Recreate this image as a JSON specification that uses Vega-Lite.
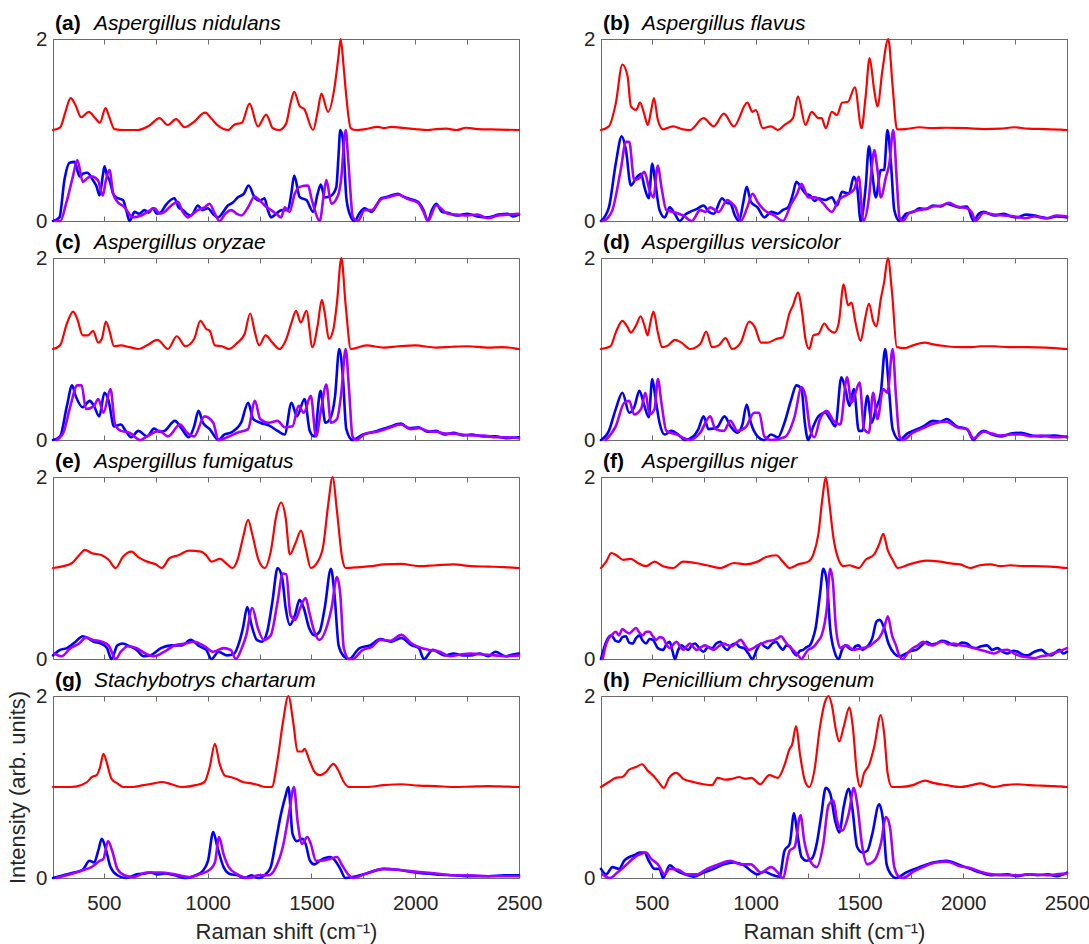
{
  "$schema": "https://vega.github.io/schema/vega-lite/v6.json",
  "background": "white",
  "padding": {"left": 6, "top": 12, "right": 0, "bottom": 2},
  "bounds": "flush",
  "columns": 2,
  "spacing": {"row": 37, "column": 82},
  "config": {
    "font": "Liberation Sans",
    "view": {"stroke": "#6b6b6b", "strokeWidth": 1},
    "axis": {
      "grid": false, "domain": false, "ticks": true, "tickSize": -5, "tickColor": "#6b6b6b", "tickWidth": 1,
      "labelColor": "#262626", "labelFont": "Liberation Sans", "labelFontSize": 20.5, "labelFlush": false,
      "labelOverlap": false, "labelBound": false,
      "titleFont": "Liberation Sans", "titleFontSize": 22, "titleFontWeight": "normal", "titleColor": "#262626"
    },
    "line": {"strokeJoin": "round", "strokeCap": "round", "interpolate": "monotone"}
  },
  "datasets": {
    "a_red": [{"x":255,"y":1.0},{"x":290,"y":1.03},{"x":315,"y":1.2},{"x":340,"y":1.35},{"x":362,"y":1.28},{"x":391,"y":1.14},{"x":428,"y":1.2},{"x":455,"y":1.14},{"x":481,"y":1.08},{"x":508,"y":1.24},{"x":525,"y":1.15},{"x":551,"y":1.01},{"x":600,"y":1.0},{"x":664,"y":1.0},{"x":720,"y":1.05},{"x":768,"y":1.13},{"x":808,"y":1.055},{"x":848,"y":1.12},{"x":889,"y":1.03},{"x":929,"y":1.08},{"x":988,"y":1.19},{"x":1020,"y":1.12},{"x":1049,"y":1.05},{"x":1097,"y":1.0},{"x":1130,"y":1.06},{"x":1165,"y":1.08},{"x":1202,"y":1.29},{"x":1242,"y":1.04},{"x":1282,"y":1.17},{"x":1314,"y":1.02},{"x":1346,"y":1.0},{"x":1378,"y":1.07},{"x":1400,"y":1.3},{"x":1417,"y":1.42},{"x":1444,"y":1.26},{"x":1465,"y":1.23},{"x":1508,"y":1.0},{"x":1530,"y":1.2},{"x":1548,"y":1.4},{"x":1580,"y":1.2},{"x":1612,"y":1.48},{"x":1630,"y":1.8},{"x":1641,"y":2.0},{"x":1655,"y":1.7},{"x":1668,"y":1.37},{"x":1689,"y":1.02},{"x":1710,"y":1.0},{"x":1760,"y":1.01},{"x":1820,"y":1.035},{"x":1850,"y":1.02},{"x":1885,"y":1.035},{"x":1950,"y":1.02},{"x":2000,"y":1.01},{"x":2061,"y":1.0},{"x":2100,"y":1.01},{"x":2149,"y":1.015},{"x":2200,"y":1.0},{"x":2245,"y":1.025},{"x":2300,"y":1.01},{"x":2400,"y":1.005},{"x":2500,"y":1.0}],
    "a_blue": [{"x":255,"y":0.0},{"x":286,"y":0.04},{"x":310,"y":0.45},{"x":335,"y":0.64},{"x":359,"y":0.65},{"x":383,"y":0.49},{"x":400,"y":0.52},{"x":420,"y":0.53},{"x":447,"y":0.45},{"x":465,"y":0.38},{"x":479,"y":0.28},{"x":495,"y":0.5},{"x":503,"y":0.6},{"x":515,"y":0.5},{"x":527,"y":0.45},{"x":545,"y":0.3},{"x":559,"y":0.26},{"x":592,"y":0.23},{"x":610,"y":0.1},{"x":624,"y":0.0},{"x":648,"y":0.1},{"x":670,"y":0.08},{"x":696,"y":0.12},{"x":715,"y":0.09},{"x":736,"y":0.14},{"x":755,"y":0.08},{"x":776,"y":0.1},{"x":800,"y":0.18},{"x":840,"y":0.25},{"x":860,"y":0.15},{"x":881,"y":0.12},{"x":900,"y":0.08},{"x":921,"y":0.06},{"x":953,"y":0.17},{"x":975,"y":0.12},{"x":1001,"y":0.14},{"x":1025,"y":0.08},{"x":1049,"y":0.04},{"x":1075,"y":0.1},{"x":1097,"y":0.17},{"x":1120,"y":0.2},{"x":1146,"y":0.26},{"x":1175,"y":0.3},{"x":1197,"y":0.39},{"x":1226,"y":0.26},{"x":1250,"y":0.22},{"x":1274,"y":0.25},{"x":1290,"y":0.12},{"x":1306,"y":0.04},{"x":1330,"y":0.08},{"x":1356,"y":0.12},{"x":1386,"y":0.12},{"x":1403,"y":0.3},{"x":1417,"y":0.5},{"x":1444,"y":0.26},{"x":1476,"y":0.23},{"x":1508,"y":0.1},{"x":1530,"y":0.3},{"x":1545,"y":0.4},{"x":1564,"y":0.26},{"x":1596,"y":0.28},{"x":1620,"y":0.375},{"x":1630,"y":0.7},{"x":1639,"y":1.0},{"x":1652,"y":0.89},{"x":1668,"y":0.26},{"x":1684,"y":0.08},{"x":1708,"y":0.0},{"x":1730,"y":0.08},{"x":1756,"y":0.14},{"x":1789,"y":0.1},{"x":1837,"y":0.25},{"x":1870,"y":0.27},{"x":1917,"y":0.3},{"x":1940,"y":0.27},{"x":1965,"y":0.25},{"x":2013,"y":0.21},{"x":2040,"y":0.12},{"x":2061,"y":0.0},{"x":2080,"y":0.12},{"x":2101,"y":0.19},{"x":2130,"y":0.1},{"x":2157,"y":0.09},{"x":2200,"y":0.06},{"x":2253,"y":0.08},{"x":2300,"y":0.05},{"x":2350,"y":0.04},{"x":2400,"y":0.07},{"x":2446,"y":0.08},{"x":2470,"y":0.05},{"x":2500,"y":0.07}],
    "a_purple": [{"x":265,"y":0.0},{"x":290,"y":0.0},{"x":318,"y":0.19},{"x":351,"y":0.49},{"x":372,"y":0.67},{"x":399,"y":0.43},{"x":420,"y":0.47},{"x":439,"y":0.49},{"x":471,"y":0.45},{"x":495,"y":0.28},{"x":510,"y":0.45},{"x":527,"y":0.56},{"x":545,"y":0.3},{"x":559,"y":0.23},{"x":600,"y":0.15},{"x":640,"y":0.04},{"x":680,"y":0.06},{"x":710,"y":0.1},{"x":744,"y":0.14},{"x":770,"y":0.08},{"x":792,"y":0.1},{"x":830,"y":0.18},{"x":857,"y":0.21},{"x":880,"y":0.1},{"x":905,"y":0.04},{"x":930,"y":0.08},{"x":953,"y":0.12},{"x":985,"y":0.15},{"x":1009,"y":0.19},{"x":1035,"y":0.08},{"x":1057,"y":0.0},{"x":1085,"y":0.08},{"x":1113,"y":0.12},{"x":1140,"y":0.08},{"x":1162,"y":0.06},{"x":1195,"y":0.15},{"x":1226,"y":0.27},{"x":1258,"y":0.21},{"x":1285,"y":0.15},{"x":1306,"y":0.12},{"x":1330,"y":0.08},{"x":1354,"y":0.04},{"x":1372,"y":0.15},{"x":1394,"y":0.1},{"x":1420,"y":0.3},{"x":1444,"y":0.375},{"x":1484,"y":0.39},{"x":1500,"y":0.25},{"x":1516,"y":0.12},{"x":1540,"y":0.0},{"x":1560,"y":0.3},{"x":1572,"y":0.45},{"x":1596,"y":0.19},{"x":1628,"y":0.28},{"x":1645,"y":0.5},{"x":1658,"y":0.9},{"x":1665,"y":1.0},{"x":1675,"y":0.75},{"x":1684,"y":0.45},{"x":1700,"y":0.04},{"x":1724,"y":0.0},{"x":1756,"y":0.12},{"x":1789,"y":0.12},{"x":1837,"y":0.24},{"x":1870,"y":0.26},{"x":1917,"y":0.29},{"x":1965,"y":0.24},{"x":2013,"y":0.2},{"x":2040,"y":0.1},{"x":2061,"y":0.0},{"x":2101,"y":0.17},{"x":2157,"y":0.08},{"x":2200,"y":0.07},{"x":2253,"y":0.06},{"x":2300,"y":0.07},{"x":2350,"y":0.03},{"x":2400,"y":0.06},{"x":2446,"y":0.07},{"x":2500,"y":0.08}],
    "b_red": [{"x":255,"y":1.0},{"x":293,"y":1.04},{"x":326,"y":1.29},{"x":358,"y":1.72},{"x":383,"y":1.59},{"x":399,"y":1.26},{"x":424,"y":1.22},{"x":443,"y":1.3},{"x":464,"y":1.17},{"x":480,"y":1.055},{"x":497,"y":1.22},{"x":510,"y":1.35},{"x":529,"y":1.11},{"x":554,"y":1.007},{"x":602,"y":1.04},{"x":651,"y":1.007},{"x":684,"y":1.0},{"x":749,"y":1.13},{"x":798,"y":1.04},{"x":847,"y":1.18},{"x":895,"y":1.04},{"x":960,"y":1.3},{"x":985,"y":1.2},{"x":1001,"y":1.22},{"x":1034,"y":1.02},{"x":1074,"y":1.04},{"x":1107,"y":1.0},{"x":1139,"y":1.055},{"x":1180,"y":1.13},{"x":1204,"y":1.37},{"x":1240,"y":1.055},{"x":1270,"y":1.2},{"x":1302,"y":1.13},{"x":1318,"y":1.13},{"x":1338,"y":1.02},{"x":1367,"y":1.2},{"x":1392,"y":1.165},{"x":1416,"y":1.3},{"x":1445,"y":1.31},{"x":1478,"y":1.47},{"x":1510,"y":1.02},{"x":1530,"y":1.37},{"x":1549,"y":1.79},{"x":1571,"y":1.44},{"x":1587,"y":1.26},{"x":1611,"y":1.66},{"x":1639,"y":2.0},{"x":1660,"y":1.48},{"x":1681,"y":1.007},{"x":1720,"y":1.01},{"x":1790,"y":1.03},{"x":1850,"y":1.02},{"x":1920,"y":1.025},{"x":2018,"y":1.02},{"x":2100,"y":1.01},{"x":2180,"y":1.015},{"x":2246,"y":1.03},{"x":2311,"y":1.015},{"x":2400,"y":1.01},{"x":2500,"y":1.0}],
    "b_blue": [{"x":255,"y":0.0},{"x":293,"y":0.15},{"x":326,"y":0.63},{"x":355,"y":0.93},{"x":375,"y":0.78},{"x":399,"y":0.39},{"x":424,"y":0.47},{"x":448,"y":0.52},{"x":464,"y":0.375},{"x":485,"y":0.25},{"x":502,"y":0.63},{"x":515,"y":0.45},{"x":537,"y":0.12},{"x":562,"y":0.04},{"x":586,"y":0.15},{"x":610,"y":0.08},{"x":635,"y":0.0},{"x":660,"y":0.07},{"x":684,"y":0.1},{"x":715,"y":0.13},{"x":749,"y":0.17},{"x":775,"y":0.1},{"x":798,"y":0.08},{"x":838,"y":0.25},{"x":860,"y":0.2},{"x":879,"y":0.19},{"x":900,"y":0.06},{"x":920,"y":0.0},{"x":940,"y":0.2},{"x":957,"y":0.375},{"x":977,"y":0.21},{"x":1009,"y":0.15},{"x":1042,"y":0.04},{"x":1075,"y":0.1},{"x":1107,"y":0.08},{"x":1130,"y":0.12},{"x":1156,"y":0.15},{"x":1180,"y":0.3},{"x":1196,"y":0.43},{"x":1221,"y":0.36},{"x":1240,"y":0.3},{"x":1262,"y":0.28},{"x":1285,"y":0.22},{"x":1302,"y":0.25},{"x":1335,"y":0.23},{"x":1367,"y":0.26},{"x":1392,"y":0.17},{"x":1416,"y":0.32},{"x":1449,"y":0.3},{"x":1473,"y":0.485},{"x":1489,"y":0.375},{"x":1506,"y":0.0},{"x":1530,"y":0.375},{"x":1546,"y":0.82},{"x":1562,"y":0.52},{"x":1579,"y":0.26},{"x":1603,"y":0.56},{"x":1619,"y":0.56},{"x":1635,"y":1.0},{"x":1652,"y":0.63},{"x":1668,"y":0.12},{"x":1693,"y":0.0},{"x":1725,"y":0.08},{"x":1760,"y":0.1},{"x":1790,"y":0.14},{"x":1820,"y":0.13},{"x":1855,"y":0.17},{"x":1890,"y":0.16},{"x":1920,"y":0.19},{"x":1950,"y":0.17},{"x":1985,"y":0.15},{"x":2018,"y":0.16},{"x":2050,"y":0.0},{"x":2075,"y":0.08},{"x":2099,"y":0.1},{"x":2148,"y":0.06},{"x":2197,"y":0.08},{"x":2230,"y":0.05},{"x":2262,"y":0.04},{"x":2300,"y":0.07},{"x":2343,"y":0.06},{"x":2380,"y":0.04},{"x":2408,"y":0.03},{"x":2450,"y":0.05},{"x":2500,"y":0.04}],
    "b_purple": [{"x":263,"y":0.0},{"x":290,"y":0.04},{"x":310,"y":0.12},{"x":350,"y":0.56},{"x":375,"y":0.87},{"x":391,"y":0.87},{"x":415,"y":0.45},{"x":440,"y":0.47},{"x":464,"y":0.54},{"x":489,"y":0.34},{"x":508,"y":0.26},{"x":529,"y":0.61},{"x":546,"y":0.375},{"x":570,"y":0.12},{"x":602,"y":0.1},{"x":630,"y":0.08},{"x":651,"y":0.06},{"x":692,"y":0.0},{"x":733,"y":0.12},{"x":760,"y":0.1},{"x":781,"y":0.15},{"x":822,"y":0.1},{"x":863,"y":0.23},{"x":883,"y":0.2},{"x":903,"y":0.15},{"x":928,"y":0.0},{"x":960,"y":0.15},{"x":985,"y":0.3},{"x":1009,"y":0.21},{"x":1042,"y":0.12},{"x":1091,"y":0.06},{"x":1131,"y":0.0},{"x":1172,"y":0.19},{"x":1200,"y":0.3},{"x":1221,"y":0.41},{"x":1253,"y":0.26},{"x":1286,"y":0.26},{"x":1310,"y":0.23},{"x":1327,"y":0.19},{"x":1367,"y":0.1},{"x":1400,"y":0.23},{"x":1425,"y":0.27},{"x":1449,"y":0.3},{"x":1475,"y":0.35},{"x":1497,"y":0.485},{"x":1518,"y":0.0},{"x":1546,"y":0.26},{"x":1560,"y":0.6},{"x":1571,"y":0.78},{"x":1587,"y":0.56},{"x":1603,"y":0.26},{"x":1628,"y":0.485},{"x":1644,"y":0.63},{"x":1663,"y":1.0},{"x":1680,"y":0.45},{"x":1693,"y":0.04},{"x":1709,"y":0.0},{"x":1740,"y":0.09},{"x":1790,"y":0.12},{"x":1830,"y":0.14},{"x":1855,"y":0.16},{"x":1900,"y":0.17},{"x":1930,"y":0.2},{"x":1970,"y":0.16},{"x":2018,"y":0.14},{"x":2045,"y":0.08},{"x":2058,"y":0.0},{"x":2099,"y":0.09},{"x":2148,"y":0.07},{"x":2197,"y":0.06},{"x":2250,"y":0.05},{"x":2300,"y":0.03},{"x":2343,"y":0.05},{"x":2400,"y":0.03},{"x":2450,"y":0.06},{"x":2500,"y":0.05}],
    "c_red": [{"x":255,"y":1.0},{"x":289,"y":1.04},{"x":322,"y":1.28},{"x":352,"y":1.41},{"x":372,"y":1.33},{"x":398,"y":1.15},{"x":423,"y":1.15},{"x":448,"y":1.2},{"x":473,"y":1.07},{"x":490,"y":1.11},{"x":510,"y":1.3},{"x":527,"y":1.2},{"x":549,"y":1.03},{"x":582,"y":1.04},{"x":624,"y":1.02},{"x":666,"y":1.0},{"x":708,"y":1.04},{"x":758,"y":1.1},{"x":809,"y":1.0},{"x":851,"y":1.14},{"x":893,"y":1.03},{"x":935,"y":1.11},{"x":965,"y":1.31},{"x":993,"y":1.22},{"x":1010,"y":1.2},{"x":1035,"y":1.04},{"x":1069,"y":1.03},{"x":1102,"y":1.0},{"x":1144,"y":1.07},{"x":1178,"y":1.165},{"x":1205,"y":1.39},{"x":1228,"y":1.18},{"x":1248,"y":1.04},{"x":1279,"y":1.15},{"x":1312,"y":1.07},{"x":1346,"y":1.0},{"x":1379,"y":1.11},{"x":1404,"y":1.29},{"x":1426,"y":1.42},{"x":1449,"y":1.29},{"x":1476,"y":1.42},{"x":1505,"y":1.02},{"x":1530,"y":1.26},{"x":1550,"y":1.54},{"x":1564,"y":1.4},{"x":1584,"y":1.11},{"x":1606,"y":1.22},{"x":1623,"y":1.51},{"x":1644,"y":2.0},{"x":1665,"y":1.48},{"x":1690,"y":1.0},{"x":1765,"y":1.04},{"x":1849,"y":1.015},{"x":1920,"y":1.03},{"x":2000,"y":1.04},{"x":2101,"y":1.015},{"x":2180,"y":1.025},{"x":2252,"y":1.03},{"x":2350,"y":1.015},{"x":2420,"y":1.02},{"x":2500,"y":1.0}],
    "c_blue": [{"x":255,"y":0.0},{"x":289,"y":0.04},{"x":322,"y":0.375},{"x":347,"y":0.6},{"x":364,"y":0.485},{"x":398,"y":0.36},{"x":432,"y":0.43},{"x":452,"y":0.375},{"x":478,"y":0.26},{"x":503,"y":0.52},{"x":523,"y":0.43},{"x":549,"y":0.15},{"x":582,"y":0.17},{"x":605,"y":0.1},{"x":632,"y":0.03},{"x":666,"y":0.1},{"x":708,"y":0.04},{"x":742,"y":0.125},{"x":770,"y":0.09},{"x":792,"y":0.1},{"x":842,"y":0.21},{"x":876,"y":0.12},{"x":909,"y":0.03},{"x":935,"y":0.15},{"x":956,"y":0.32},{"x":977,"y":0.19},{"x":1010,"y":0.12},{"x":1052,"y":0.0},{"x":1080,"y":0.06},{"x":1111,"y":0.08},{"x":1161,"y":0.19},{"x":1195,"y":0.41},{"x":1220,"y":0.23},{"x":1253,"y":0.19},{"x":1295,"y":0.16},{"x":1337,"y":0.1},{"x":1371,"y":0.06},{"x":1404,"y":0.41},{"x":1430,"y":0.26},{"x":1467,"y":0.45},{"x":1492,"y":0.1},{"x":1514,"y":0.04},{"x":1544,"y":0.54},{"x":1567,"y":0.19},{"x":1589,"y":0.23},{"x":1614,"y":0.485},{"x":1634,"y":1.0},{"x":1651,"y":0.71},{"x":1668,"y":0.12},{"x":1698,"y":0.0},{"x":1748,"y":0.06},{"x":1780,"y":0.08},{"x":1815,"y":0.1},{"x":1870,"y":0.14},{"x":1932,"y":0.18},{"x":1970,"y":0.13},{"x":2016,"y":0.14},{"x":2060,"y":0.09},{"x":2101,"y":0.1},{"x":2140,"y":0.06},{"x":2185,"y":0.08},{"x":2230,"y":0.05},{"x":2269,"y":0.06},{"x":2330,"y":0.04},{"x":2386,"y":0.04},{"x":2440,"y":0.02},{"x":2500,"y":0.03}],
    "c_purple": [{"x":272,"y":0.0},{"x":305,"y":0.08},{"x":339,"y":0.375},{"x":372,"y":0.6},{"x":393,"y":0.6},{"x":414,"y":0.34},{"x":453,"y":0.375},{"x":473,"y":0.45},{"x":498,"y":0.3},{"x":532,"y":0.56},{"x":554,"y":0.17},{"x":582,"y":0.1},{"x":624,"y":0.08},{"x":675,"y":0.0},{"x":708,"y":0.04},{"x":767,"y":0.1},{"x":809,"y":0.04},{"x":867,"y":0.17},{"x":901,"y":0.08},{"x":935,"y":0.04},{"x":985,"y":0.26},{"x":1027,"y":0.19},{"x":1052,"y":0.0},{"x":1094,"y":0.03},{"x":1144,"y":0.08},{"x":1195,"y":0.12},{"x":1228,"y":0.43},{"x":1253,"y":0.23},{"x":1295,"y":0.19},{"x":1337,"y":0.21},{"x":1371,"y":0.14},{"x":1409,"y":0.15},{"x":1438,"y":0.375},{"x":1463,"y":0.3},{"x":1497,"y":0.485},{"x":1522,"y":0.04},{"x":1547,"y":0.34},{"x":1572,"y":0.61},{"x":1594,"y":0.19},{"x":1623,"y":0.23},{"x":1644,"y":0.52},{"x":1665,"y":1.0},{"x":1681,"y":0.56},{"x":1698,"y":0.04},{"x":1715,"y":0.0},{"x":1760,"y":0.07},{"x":1815,"y":0.09},{"x":1870,"y":0.13},{"x":1932,"y":0.17},{"x":1980,"y":0.12},{"x":2016,"y":0.13},{"x":2060,"y":0.1},{"x":2101,"y":0.09},{"x":2150,"y":0.07},{"x":2185,"y":0.07},{"x":2269,"y":0.05},{"x":2330,"y":0.05},{"x":2386,"y":0.03},{"x":2440,"y":0.03},{"x":2500,"y":0.02}],
    "d_red": [{"x":255,"y":1.0},{"x":301,"y":1.03},{"x":326,"y":1.18},{"x":358,"y":1.31},{"x":383,"y":1.24},{"x":399,"y":1.18},{"x":424,"y":1.26},{"x":446,"y":1.36},{"x":464,"y":1.26},{"x":480,"y":1.15},{"x":492,"y":1.28},{"x":508,"y":1.41},{"x":529,"y":1.18},{"x":550,"y":1.02},{"x":578,"y":1.04},{"x":611,"y":1.1},{"x":643,"y":1.07},{"x":684,"y":1.0},{"x":733,"y":1.055},{"x":762,"y":1.19},{"x":790,"y":1.02},{"x":822,"y":1.04},{"x":855,"y":1.12},{"x":887,"y":1.0},{"x":928,"y":1.07},{"x":969,"y":1.3},{"x":996,"y":1.24},{"x":1026,"y":1.07},{"x":1058,"y":1.07},{"x":1099,"y":1.11},{"x":1131,"y":1.13},{"x":1164,"y":1.4},{"x":1180,"y":1.48},{"x":1204,"y":1.62},{"x":1224,"y":1.4},{"x":1240,"y":1.11},{"x":1258,"y":1.0},{"x":1278,"y":1.15},{"x":1302,"y":1.165},{"x":1331,"y":1.28},{"x":1351,"y":1.22},{"x":1380,"y":1.18},{"x":1400,"y":1.28},{"x":1424,"y":1.71},{"x":1445,"y":1.48},{"x":1462,"y":1.51},{"x":1481,"y":1.29},{"x":1506,"y":1.09},{"x":1527,"y":1.33},{"x":1546,"y":1.5},{"x":1566,"y":1.31},{"x":1582,"y":1.25},{"x":1603,"y":1.55},{"x":1619,"y":1.735},{"x":1637,"y":2.0},{"x":1657,"y":1.625},{"x":1680,"y":1.02},{"x":1720,"y":1.01},{"x":1758,"y":1.04},{"x":1815,"y":1.07},{"x":1855,"y":1.05},{"x":1920,"y":1.03},{"x":1985,"y":1.02},{"x":2040,"y":1.02},{"x":2083,"y":1.03},{"x":2148,"y":1.03},{"x":2220,"y":1.02},{"x":2311,"y":1.02},{"x":2400,"y":1.015},{"x":2500,"y":1.0}],
    "d_blue": [{"x":255,"y":0.0},{"x":293,"y":0.1},{"x":326,"y":0.34},{"x":358,"y":0.52},{"x":391,"y":0.3},{"x":415,"y":0.36},{"x":440,"y":0.54},{"x":464,"y":0.375},{"x":485,"y":0.25},{"x":502,"y":0.67},{"x":518,"y":0.45},{"x":537,"y":0.19},{"x":562,"y":0.06},{"x":594,"y":0.1},{"x":627,"y":0.06},{"x":659,"y":0.0},{"x":700,"y":0.04},{"x":724,"y":0.12},{"x":749,"y":0.26},{"x":773,"y":0.12},{"x":814,"y":0.14},{"x":850,"y":0.26},{"x":879,"y":0.15},{"x":912,"y":0.08},{"x":936,"y":0.17},{"x":957,"y":0.39},{"x":977,"y":0.19},{"x":1009,"y":0.04},{"x":1042,"y":0.0},{"x":1074,"y":0.06},{"x":1107,"y":0.03},{"x":1139,"y":0.19},{"x":1172,"y":0.45},{"x":1196,"y":0.6},{"x":1221,"y":0.56},{"x":1237,"y":0.19},{"x":1253,"y":0.0},{"x":1278,"y":0.15},{"x":1302,"y":0.26},{"x":1335,"y":0.3},{"x":1359,"y":0.23},{"x":1384,"y":0.15},{"x":1413,"y":0.69},{"x":1432,"y":0.56},{"x":1452,"y":0.375},{"x":1473,"y":0.56},{"x":1497,"y":0.1},{"x":1514,"y":0.1},{"x":1538,"y":0.485},{"x":1559,"y":0.19},{"x":1579,"y":0.34},{"x":1603,"y":0.52},{"x":1624,"y":1.0},{"x":1641,"y":0.6},{"x":1660,"y":0.12},{"x":1693,"y":0.0},{"x":1730,"y":0.07},{"x":1758,"y":0.1},{"x":1807,"y":0.15},{"x":1855,"y":0.21},{"x":1890,"y":0.2},{"x":1920,"y":0.23},{"x":1969,"y":0.15},{"x":2018,"y":0.12},{"x":2050,"y":0.0},{"x":2075,"y":0.07},{"x":2099,"y":0.1},{"x":2140,"y":0.06},{"x":2180,"y":0.04},{"x":2230,"y":0.07},{"x":2278,"y":0.08},{"x":2330,"y":0.05},{"x":2376,"y":0.04},{"x":2440,"y":0.05},{"x":2500,"y":0.03}],
    "d_purple": [{"x":277,"y":0.0},{"x":326,"y":0.15},{"x":367,"y":0.41},{"x":391,"y":0.43},{"x":415,"y":0.28},{"x":448,"y":0.34},{"x":469,"y":0.52},{"x":489,"y":0.28},{"x":513,"y":0.34},{"x":529,"y":0.67},{"x":546,"y":0.41},{"x":570,"y":0.1},{"x":619,"y":0.06},{"x":684,"y":0.0},{"x":733,"y":0.08},{"x":781,"y":0.26},{"x":806,"y":0.12},{"x":847,"y":0.1},{"x":879,"y":0.21},{"x":912,"y":0.1},{"x":952,"y":0.14},{"x":993,"y":0.3},{"x":1017,"y":0.3},{"x":1042,"y":0.04},{"x":1074,"y":0.0},{"x":1139,"y":0.03},{"x":1188,"y":0.26},{"x":1221,"y":0.58},{"x":1240,"y":0.485},{"x":1262,"y":0.12},{"x":1283,"y":0.03},{"x":1310,"y":0.23},{"x":1343,"y":0.32},{"x":1375,"y":0.21},{"x":1408,"y":0.17},{"x":1440,"y":0.69},{"x":1462,"y":0.41},{"x":1481,"y":0.52},{"x":1501,"y":0.63},{"x":1522,"y":0.12},{"x":1546,"y":0.08},{"x":1566,"y":0.52},{"x":1587,"y":0.23},{"x":1614,"y":0.56},{"x":1635,"y":0.52},{"x":1660,"y":1.0},{"x":1676,"y":0.485},{"x":1693,"y":0.04},{"x":1709,"y":0.0},{"x":1758,"y":0.08},{"x":1807,"y":0.13},{"x":1855,"y":0.18},{"x":1920,"y":0.2},{"x":1969,"y":0.14},{"x":2018,"y":0.12},{"x":2050,"y":0.02},{"x":2099,"y":0.09},{"x":2140,"y":0.07},{"x":2180,"y":0.05},{"x":2230,"y":0.06},{"x":2278,"y":0.06},{"x":2330,"y":0.04},{"x":2376,"y":0.05},{"x":2440,"y":0.03},{"x":2500,"y":0.04}],
    "e_red": [{"x":255,"y":1.0},{"x":305,"y":1.02},{"x":347,"y":1.055},{"x":381,"y":1.14},{"x":409,"y":1.2},{"x":440,"y":1.165},{"x":490,"y":1.14},{"x":523,"y":1.09},{"x":557,"y":1.0},{"x":591,"y":1.12},{"x":633,"y":1.18},{"x":666,"y":1.12},{"x":708,"y":1.07},{"x":750,"y":1.04},{"x":779,"y":1.0},{"x":817,"y":1.11},{"x":859,"y":1.14},{"x":909,"y":1.19},{"x":968,"y":1.18},{"x":993,"y":1.14},{"x":1019,"y":1.07},{"x":1060,"y":1.1},{"x":1094,"y":1.04},{"x":1119,"y":1.0},{"x":1144,"y":1.09},{"x":1170,"y":1.33},{"x":1195,"y":1.53},{"x":1215,"y":1.37},{"x":1245,"y":1.09},{"x":1275,"y":1.0},{"x":1304,"y":1.18},{"x":1332,"y":1.59},{"x":1354,"y":1.72},{"x":1376,"y":1.55},{"x":1396,"y":1.15},{"x":1421,"y":1.26},{"x":1450,"y":1.41},{"x":1472,"y":1.22},{"x":1497,"y":1.0},{"x":1522,"y":1.04},{"x":1555,"y":1.22},{"x":1581,"y":1.7},{"x":1602,"y":2.0},{"x":1623,"y":1.625},{"x":1648,"y":1.11},{"x":1665,"y":1.0},{"x":1732,"y":1.01},{"x":1790,"y":1.02},{"x":1849,"y":1.04},{"x":1933,"y":1.045},{"x":2017,"y":1.02},{"x":2100,"y":1.03},{"x":2185,"y":1.04},{"x":2270,"y":1.02},{"x":2352,"y":1.015},{"x":2430,"y":1.01},{"x":2500,"y":1.0}],
    "e_blue": [{"x":255,"y":0.04},{"x":289,"y":0.1},{"x":322,"y":0.12},{"x":364,"y":0.19},{"x":398,"y":0.25},{"x":423,"y":0.23},{"x":452,"y":0.19},{"x":486,"y":0.17},{"x":515,"y":0.12},{"x":537,"y":0.0},{"x":565,"y":0.15},{"x":591,"y":0.17},{"x":624,"y":0.14},{"x":658,"y":0.1},{"x":691,"y":0.03},{"x":725,"y":0.04},{"x":775,"y":0.12},{"x":826,"y":0.15},{"x":876,"y":0.15},{"x":918,"y":0.21},{"x":960,"y":0.14},{"x":993,"y":0.1},{"x":1019,"y":0.0},{"x":1052,"y":0.08},{"x":1094,"y":0.04},{"x":1128,"y":0.06},{"x":1153,"y":0.19},{"x":1170,"y":0.34},{"x":1191,"y":0.57},{"x":1211,"y":0.375},{"x":1237,"y":0.21},{"x":1262,"y":0.19},{"x":1287,"y":0.3},{"x":1312,"y":0.63},{"x":1337,"y":1.0},{"x":1359,"y":0.89},{"x":1376,"y":0.56},{"x":1396,"y":0.375},{"x":1421,"y":0.485},{"x":1443,"y":0.65},{"x":1463,"y":0.56},{"x":1489,"y":0.34},{"x":1514,"y":0.26},{"x":1539,"y":0.3},{"x":1564,"y":0.56},{"x":1594,"y":0.99},{"x":1611,"y":0.71},{"x":1631,"y":0.15},{"x":1656,"y":0.03},{"x":1681,"y":0.0},{"x":1732,"y":0.12},{"x":1782,"y":0.15},{"x":1832,"y":0.22},{"x":1883,"y":0.19},{"x":1933,"y":0.23},{"x":1983,"y":0.15},{"x":2017,"y":0.12},{"x":2042,"y":0.0},{"x":2084,"y":0.1},{"x":2143,"y":0.04},{"x":2185,"y":0.06},{"x":2230,"y":0.04},{"x":2269,"y":0.04},{"x":2310,"y":0.06},{"x":2352,"y":0.03},{"x":2386,"y":0.08},{"x":2436,"y":0.03},{"x":2470,"y":0.05},{"x":2500,"y":0.06}],
    "e_purple": [{"x":263,"y":0.06},{"x":297,"y":0.03},{"x":339,"y":0.12},{"x":381,"y":0.17},{"x":414,"y":0.235},{"x":448,"y":0.21},{"x":490,"y":0.19},{"x":523,"y":0.15},{"x":557,"y":0.0},{"x":582,"y":0.08},{"x":616,"y":0.14},{"x":658,"y":0.12},{"x":700,"y":0.06},{"x":742,"y":0.03},{"x":792,"y":0.08},{"x":842,"y":0.15},{"x":893,"y":0.17},{"x":935,"y":0.19},{"x":985,"y":0.14},{"x":1027,"y":0.08},{"x":1077,"y":0.12},{"x":1111,"y":0.1},{"x":1136,"y":0.0},{"x":1161,"y":0.1},{"x":1186,"y":0.26},{"x":1215,"y":0.56},{"x":1242,"y":0.34},{"x":1270,"y":0.21},{"x":1304,"y":0.26},{"x":1337,"y":0.63},{"x":1362,"y":0.94},{"x":1379,"y":0.93},{"x":1399,"y":0.485},{"x":1421,"y":0.43},{"x":1446,"y":0.56},{"x":1472,"y":0.67},{"x":1489,"y":0.52},{"x":1514,"y":0.3},{"x":1539,"y":0.21},{"x":1572,"y":0.34},{"x":1597,"y":0.56},{"x":1623,"y":0.9},{"x":1639,"y":0.71},{"x":1656,"y":0.12},{"x":1681,"y":0.0},{"x":1698,"y":0.0},{"x":1748,"y":0.1},{"x":1790,"y":0.13},{"x":1832,"y":0.21},{"x":1880,"y":0.2},{"x":1933,"y":0.265},{"x":1983,"y":0.17},{"x":2030,"y":0.12},{"x":2067,"y":0.1},{"x":2118,"y":0.08},{"x":2168,"y":0.03},{"x":2220,"y":0.05},{"x":2269,"y":0.06},{"x":2330,"y":0.05},{"x":2386,"y":0.04},{"x":2440,"y":0.03},{"x":2500,"y":0.04}],
    "f_red": [{"x":255,"y":1.0},{"x":280,"y":1.07},{"x":305,"y":1.165},{"x":329,"y":1.14},{"x":362,"y":1.09},{"x":399,"y":1.1},{"x":432,"y":1.055},{"x":472,"y":1.02},{"x":513,"y":1.07},{"x":554,"y":1.02},{"x":603,"y":1.0},{"x":651,"y":1.07},{"x":708,"y":1.055},{"x":765,"y":1.03},{"x":830,"y":1.0},{"x":895,"y":1.055},{"x":952,"y":1.04},{"x":1009,"y":1.07},{"x":1050,"y":1.12},{"x":1099,"y":1.14},{"x":1131,"y":1.07},{"x":1164,"y":1.0},{"x":1205,"y":1.04},{"x":1253,"y":1.07},{"x":1278,"y":1.15},{"x":1302,"y":1.37},{"x":1322,"y":1.77},{"x":1338,"y":2.0},{"x":1354,"y":1.735},{"x":1375,"y":1.33},{"x":1400,"y":1.09},{"x":1424,"y":1.02},{"x":1449,"y":1.03},{"x":1497,"y":1.0},{"x":1530,"y":1.09},{"x":1571,"y":1.15},{"x":1595,"y":1.26},{"x":1615,"y":1.375},{"x":1636,"y":1.2},{"x":1660,"y":1.09},{"x":1685,"y":1.0},{"x":1741,"y":1.04},{"x":1823,"y":1.08},{"x":1888,"y":1.07},{"x":1940,"y":1.05},{"x":1985,"y":1.04},{"x":2034,"y":1.0},{"x":2080,"y":1.03},{"x":2132,"y":1.04},{"x":2180,"y":1.02},{"x":2229,"y":1.03},{"x":2290,"y":1.02},{"x":2343,"y":1.02},{"x":2420,"y":1.015},{"x":2500,"y":1.0}],
    "f_blue": [{"x":255,"y":0.0},{"x":280,"y":0.19},{"x":305,"y":0.26},{"x":325,"y":0.2},{"x":342,"y":0.19},{"x":358,"y":0.24},{"x":375,"y":0.25},{"x":390,"y":0.18},{"x":407,"y":0.17},{"x":424,"y":0.23},{"x":440,"y":0.26},{"x":456,"y":0.2},{"x":472,"y":0.17},{"x":489,"y":0.22},{"x":505,"y":0.21},{"x":529,"y":0.12},{"x":554,"y":0.1},{"x":570,"y":0.16},{"x":586,"y":0.19},{"x":600,"y":0.08},{"x":611,"y":0.0},{"x":627,"y":0.1},{"x":643,"y":0.15},{"x":660,"y":0.12},{"x":676,"y":0.1},{"x":692,"y":0.15},{"x":708,"y":0.17},{"x":728,"y":0.12},{"x":749,"y":0.08},{"x":770,"y":0.13},{"x":790,"y":0.12},{"x":810,"y":0.17},{"x":830,"y":0.19},{"x":847,"y":0.13},{"x":863,"y":0.1},{"x":883,"y":0.15},{"x":903,"y":0.17},{"x":924,"y":0.13},{"x":944,"y":0.12},{"x":965,"y":0.06},{"x":985,"y":0.0},{"x":1005,"y":0.1},{"x":1026,"y":0.17},{"x":1042,"y":0.14},{"x":1058,"y":0.12},{"x":1080,"y":0.17},{"x":1099,"y":0.19},{"x":1115,"y":0.14},{"x":1131,"y":0.1},{"x":1148,"y":0.15},{"x":1164,"y":0.14},{"x":1180,"y":0.08},{"x":1196,"y":0.04},{"x":1213,"y":0.09},{"x":1229,"y":0.1},{"x":1245,"y":0.13},{"x":1261,"y":0.15},{"x":1275,"y":0.22},{"x":1289,"y":0.34},{"x":1310,"y":0.71},{"x":1326,"y":0.99},{"x":1343,"y":0.85},{"x":1359,"y":0.34},{"x":1380,"y":0.08},{"x":1400,"y":0.0},{"x":1416,"y":0.1},{"x":1432,"y":0.15},{"x":1449,"y":0.12},{"x":1465,"y":0.1},{"x":1481,"y":0.14},{"x":1497,"y":0.15},{"x":1514,"y":0.1},{"x":1530,"y":0.12},{"x":1546,"y":0.16},{"x":1562,"y":0.23},{"x":1582,"y":0.41},{"x":1598,"y":0.43},{"x":1619,"y":0.34},{"x":1640,"y":0.17},{"x":1668,"y":0.06},{"x":1693,"y":0.03},{"x":1725,"y":0.06},{"x":1750,"y":0.09},{"x":1774,"y":0.1},{"x":1800,"y":0.15},{"x":1823,"y":0.19},{"x":1848,"y":0.16},{"x":1872,"y":0.17},{"x":1896,"y":0.2},{"x":1920,"y":0.19},{"x":1945,"y":0.16},{"x":1969,"y":0.15},{"x":1993,"y":0.18},{"x":2018,"y":0.17},{"x":2040,"y":0.13},{"x":2059,"y":0.12},{"x":2087,"y":0.14},{"x":2115,"y":0.15},{"x":2140,"y":0.1},{"x":2164,"y":0.12},{"x":2190,"y":0.08},{"x":2213,"y":0.06},{"x":2240,"y":0.09},{"x":2262,"y":0.08},{"x":2285,"y":0.05},{"x":2311,"y":0.04},{"x":2343,"y":0.08},{"x":2376,"y":0.1},{"x":2400,"y":0.06},{"x":2424,"y":0.04},{"x":2444,"y":0.07},{"x":2464,"y":0.1},{"x":2482,"y":0.06},{"x":2500,"y":0.08}],
    "f_purple": [{"x":263,"y":0.0},{"x":278,"y":0.15},{"x":293,"y":0.23},{"x":310,"y":0.27},{"x":326,"y":0.3},{"x":342,"y":0.26},{"x":358,"y":0.33},{"x":375,"y":0.3},{"x":391,"y":0.28},{"x":407,"y":0.31},{"x":424,"y":0.34},{"x":440,"y":0.29},{"x":456,"y":0.26},{"x":472,"y":0.3},{"x":489,"y":0.3},{"x":505,"y":0.25},{"x":521,"y":0.21},{"x":538,"y":0.24},{"x":554,"y":0.23},{"x":570,"y":0.16},{"x":586,"y":0.12},{"x":603,"y":0.16},{"x":619,"y":0.19},{"x":635,"y":0.14},{"x":651,"y":0.1},{"x":668,"y":0.14},{"x":684,"y":0.17},{"x":700,"y":0.13},{"x":716,"y":0.1},{"x":737,"y":0.13},{"x":757,"y":0.15},{"x":778,"y":0.12},{"x":798,"y":0.1},{"x":822,"y":0.14},{"x":847,"y":0.17},{"x":867,"y":0.15},{"x":887,"y":0.14},{"x":908,"y":0.18},{"x":928,"y":0.21},{"x":948,"y":0.15},{"x":969,"y":0.1},{"x":989,"y":0.12},{"x":1009,"y":0.15},{"x":1030,"y":0.17},{"x":1050,"y":0.19},{"x":1070,"y":0.2},{"x":1091,"y":0.21},{"x":1107,"y":0.23},{"x":1123,"y":0.25},{"x":1140,"y":0.2},{"x":1156,"y":0.15},{"x":1172,"y":0.12},{"x":1188,"y":0.08},{"x":1205,"y":0.04},{"x":1221,"y":0.0},{"x":1237,"y":0.05},{"x":1253,"y":0.1},{"x":1270,"y":0.12},{"x":1286,"y":0.15},{"x":1302,"y":0.2},{"x":1318,"y":0.26},{"x":1343,"y":0.56},{"x":1359,"y":0.99},{"x":1372,"y":0.85},{"x":1387,"y":0.34},{"x":1408,"y":0.12},{"x":1424,"y":0.14},{"x":1440,"y":0.15},{"x":1457,"y":0.12},{"x":1473,"y":0.1},{"x":1494,"y":0.11},{"x":1514,"y":0.12},{"x":1534,"y":0.13},{"x":1554,"y":0.15},{"x":1575,"y":0.19},{"x":1595,"y":0.23},{"x":1619,"y":0.34},{"x":1637,"y":0.47},{"x":1657,"y":0.26},{"x":1676,"y":0.15},{"x":1693,"y":0.03},{"x":1709,"y":0.0},{"x":1734,"y":0.07},{"x":1758,"y":0.12},{"x":1782,"y":0.15},{"x":1807,"y":0.19},{"x":1831,"y":0.16},{"x":1855,"y":0.15},{"x":1880,"y":0.18},{"x":1904,"y":0.19},{"x":1928,"y":0.16},{"x":1953,"y":0.17},{"x":1985,"y":0.15},{"x":2018,"y":0.14},{"x":2050,"y":0.12},{"x":2083,"y":0.1},{"x":2115,"y":0.08},{"x":2148,"y":0.06},{"x":2180,"y":0.09},{"x":2213,"y":0.1},{"x":2245,"y":0.06},{"x":2278,"y":0.03},{"x":2310,"y":0.02},{"x":2343,"y":0.01},{"x":2376,"y":0.03},{"x":2408,"y":0.04},{"x":2430,"y":0.06},{"x":2457,"y":0.08},{"x":2480,"y":0.1},{"x":2500,"y":0.12}],
    "g_red": [{"x":255,"y":1.0},{"x":339,"y":1.0},{"x":389,"y":1.02},{"x":419,"y":1.055},{"x":443,"y":1.11},{"x":465,"y":1.13},{"x":482,"y":1.22},{"x":498,"y":1.365},{"x":515,"y":1.26},{"x":537,"y":1.09},{"x":565,"y":1.04},{"x":594,"y":1.0},{"x":641,"y":1.0},{"x":691,"y":1.02},{"x":742,"y":1.04},{"x":779,"y":1.055},{"x":826,"y":1.03},{"x":876,"y":1.0},{"x":943,"y":1.02},{"x":985,"y":1.055},{"x":1010,"y":1.22},{"x":1035,"y":1.475},{"x":1057,"y":1.26},{"x":1086,"y":1.12},{"x":1111,"y":1.11},{"x":1136,"y":1.09},{"x":1170,"y":1.055},{"x":1211,"y":1.04},{"x":1245,"y":1.02},{"x":1279,"y":1.0},{"x":1309,"y":1.0},{"x":1337,"y":1.3},{"x":1362,"y":1.7},{"x":1389,"y":2.0},{"x":1413,"y":1.7},{"x":1433,"y":1.39},{"x":1455,"y":1.39},{"x":1467,"y":1.42},{"x":1489,"y":1.3},{"x":1514,"y":1.17},{"x":1539,"y":1.13},{"x":1572,"y":1.17},{"x":1606,"y":1.255},{"x":1628,"y":1.19},{"x":1656,"y":1.055},{"x":1681,"y":1.0},{"x":1765,"y":1.0},{"x":1849,"y":1.02},{"x":1933,"y":1.03},{"x":2017,"y":1.015},{"x":2100,"y":1.01},{"x":2185,"y":1.0},{"x":2270,"y":1.005},{"x":2352,"y":1.01},{"x":2430,"y":1.005},{"x":2500,"y":1.0}],
    "g_blue": [{"x":255,"y":0.0},{"x":305,"y":0.03},{"x":356,"y":0.06},{"x":398,"y":0.09},{"x":431,"y":0.19},{"x":453,"y":0.17},{"x":473,"y":0.3},{"x":490,"y":0.43},{"x":507,"y":0.34},{"x":532,"y":0.12},{"x":565,"y":0.03},{"x":607,"y":0.0},{"x":658,"y":0.04},{"x":700,"y":0.05},{"x":725,"y":0.06},{"x":760,"y":0.04},{"x":792,"y":0.05},{"x":842,"y":0.03},{"x":893,"y":0.0},{"x":943,"y":0.03},{"x":977,"y":0.08},{"x":1002,"y":0.19},{"x":1027,"y":0.505},{"x":1047,"y":0.34},{"x":1077,"y":0.12},{"x":1111,"y":0.04},{"x":1144,"y":0.03},{"x":1178,"y":0.0},{"x":1211,"y":0.03},{"x":1245,"y":0.0},{"x":1279,"y":0.04},{"x":1304,"y":0.12},{"x":1329,"y":0.41},{"x":1354,"y":0.71},{"x":1375,"y":0.9},{"x":1389,"y":1.0},{"x":1409,"y":0.485},{"x":1430,"y":0.405},{"x":1455,"y":0.43},{"x":1472,"y":0.375},{"x":1493,"y":0.19},{"x":1514,"y":0.15},{"x":1547,"y":0.2},{"x":1589,"y":0.23},{"x":1614,"y":0.19},{"x":1639,"y":0.1},{"x":1664,"y":0.0},{"x":1698,"y":0.01},{"x":1765,"y":0.05},{"x":1849,"y":0.1},{"x":1916,"y":0.09},{"x":2000,"y":0.06},{"x":2101,"y":0.04},{"x":2185,"y":0.03},{"x":2270,"y":0.02},{"x":2352,"y":0.02},{"x":2430,"y":0.03},{"x":2500,"y":0.03}],
    "g_purple": [{"x":272,"y":0.0},{"x":339,"y":0.04},{"x":406,"y":0.09},{"x":440,"y":0.12},{"x":482,"y":0.19},{"x":498,"y":0.21},{"x":520,"y":0.405},{"x":540,"y":0.3},{"x":565,"y":0.1},{"x":599,"y":0.03},{"x":641,"y":0.01},{"x":708,"y":0.06},{"x":775,"y":0.06},{"x":842,"y":0.04},{"x":909,"y":0.01},{"x":960,"y":0.04},{"x":1010,"y":0.09},{"x":1035,"y":0.17},{"x":1055,"y":0.45},{"x":1077,"y":0.26},{"x":1102,"y":0.12},{"x":1144,"y":0.04},{"x":1195,"y":0.0},{"x":1245,"y":0.03},{"x":1295,"y":0.03},{"x":1329,"y":0.12},{"x":1362,"y":0.34},{"x":1392,"y":0.71},{"x":1416,"y":1.0},{"x":1433,"y":0.63},{"x":1455,"y":0.375},{"x":1480,"y":0.45},{"x":1497,"y":0.375},{"x":1522,"y":0.19},{"x":1547,"y":0.19},{"x":1589,"y":0.21},{"x":1623,"y":0.23},{"x":1648,"y":0.14},{"x":1681,"y":0.03},{"x":1701,"y":0.0},{"x":1765,"y":0.05},{"x":1849,"y":0.1},{"x":1916,"y":0.09},{"x":2000,"y":0.07},{"x":2101,"y":0.05},{"x":2185,"y":0.03},{"x":2270,"y":0.03},{"x":2352,"y":0.02},{"x":2430,"y":0.02},{"x":2500,"y":0.02}],
    "h_red": [{"x":255,"y":1.0},{"x":293,"y":1.055},{"x":326,"y":1.1},{"x":358,"y":1.11},{"x":391,"y":1.19},{"x":424,"y":1.22},{"x":453,"y":1.25},{"x":480,"y":1.18},{"x":513,"y":1.11},{"x":537,"y":1.04},{"x":557,"y":0.99},{"x":583,"y":1.1},{"x":619,"y":1.155},{"x":651,"y":1.09},{"x":700,"y":1.055},{"x":749,"y":1.03},{"x":790,"y":1.02},{"x":817,"y":1.1},{"x":855,"y":1.08},{"x":887,"y":1.09},{"x":920,"y":1.11},{"x":952,"y":1.09},{"x":980,"y":1.1},{"x":1022,"y":1.03},{"x":1066,"y":1.13},{"x":1107,"y":1.1},{"x":1139,"y":1.24},{"x":1164,"y":1.42},{"x":1175,"y":1.46},{"x":1195,"y":1.67},{"x":1213,"y":1.37},{"x":1237,"y":1.07},{"x":1258,"y":1.0},{"x":1283,"y":1.18},{"x":1310,"y":1.66},{"x":1335,"y":1.94},{"x":1351,"y":2.0},{"x":1367,"y":1.9},{"x":1387,"y":1.625},{"x":1403,"y":1.5},{"x":1424,"y":1.66},{"x":1452,"y":1.875},{"x":1468,"y":1.66},{"x":1489,"y":1.13},{"x":1504,"y":1.0},{"x":1522,"y":1.15},{"x":1546,"y":1.24},{"x":1571,"y":1.44},{"x":1603,"y":1.79},{"x":1619,"y":1.59},{"x":1636,"y":1.15},{"x":1657,"y":1.0},{"x":1693,"y":1.0},{"x":1758,"y":1.02},{"x":1815,"y":1.07},{"x":1855,"y":1.045},{"x":1920,"y":1.02},{"x":1985,"y":1.0},{"x":2040,"y":1.02},{"x":2083,"y":1.04},{"x":2148,"y":1.0},{"x":2200,"y":1.02},{"x":2262,"y":1.03},{"x":2320,"y":1.02},{"x":2376,"y":1.015},{"x":2440,"y":1.01},{"x":2500,"y":1.0}],
    "h_blue": [{"x":255,"y":0.1},{"x":280,"y":0.04},{"x":310,"y":0.12},{"x":342,"y":0.1},{"x":367,"y":0.19},{"x":391,"y":0.23},{"x":415,"y":0.25},{"x":440,"y":0.28},{"x":464,"y":0.28},{"x":485,"y":0.19},{"x":513,"y":0.1},{"x":537,"y":0.1},{"x":554,"y":0.0},{"x":586,"y":0.14},{"x":619,"y":0.08},{"x":659,"y":0.04},{"x":700,"y":0.015},{"x":749,"y":0.06},{"x":798,"y":0.1},{"x":847,"y":0.15},{"x":895,"y":0.17},{"x":944,"y":0.14},{"x":977,"y":0.08},{"x":1009,"y":0.04},{"x":1042,"y":0.07},{"x":1074,"y":0.04},{"x":1115,"y":0.015},{"x":1139,"y":0.3},{"x":1164,"y":0.375},{"x":1185,"y":0.71},{"x":1201,"y":0.485},{"x":1221,"y":0.23},{"x":1245,"y":0.19},{"x":1270,"y":0.21},{"x":1294,"y":0.375},{"x":1315,"y":0.67},{"x":1338,"y":0.99},{"x":1359,"y":0.93},{"x":1383,"y":0.63},{"x":1403,"y":0.5},{"x":1424,"y":0.78},{"x":1449,"y":0.98},{"x":1465,"y":0.78},{"x":1489,"y":0.34},{"x":1514,"y":0.28},{"x":1538,"y":0.3},{"x":1562,"y":0.485},{"x":1595,"y":0.81},{"x":1614,"y":0.63},{"x":1631,"y":0.15},{"x":1652,"y":0.04},{"x":1676,"y":0.0},{"x":1725,"y":0.06},{"x":1790,"y":0.12},{"x":1855,"y":0.17},{"x":1920,"y":0.19},{"x":1985,"y":0.14},{"x":2034,"y":0.1},{"x":2083,"y":0.06},{"x":2140,"y":0.03},{"x":2213,"y":0.04},{"x":2260,"y":0.02},{"x":2311,"y":0.04},{"x":2360,"y":0.03},{"x":2408,"y":0.04},{"x":2450,"y":0.02},{"x":2500,"y":0.06}],
    "h_purple": [{"x":263,"y":0.04},{"x":297,"y":0.0},{"x":334,"y":0.06},{"x":375,"y":0.14},{"x":407,"y":0.21},{"x":448,"y":0.265},{"x":472,"y":0.28},{"x":497,"y":0.21},{"x":529,"y":0.15},{"x":562,"y":0.04},{"x":586,"y":0.1},{"x":627,"y":0.09},{"x":668,"y":0.04},{"x":716,"y":0.04},{"x":765,"y":0.1},{"x":822,"y":0.15},{"x":879,"y":0.19},{"x":928,"y":0.15},{"x":977,"y":0.15},{"x":1026,"y":0.06},{"x":1074,"y":0.12},{"x":1107,"y":0.06},{"x":1131,"y":0.0},{"x":1164,"y":0.3},{"x":1188,"y":0.34},{"x":1216,"y":0.69},{"x":1234,"y":0.41},{"x":1262,"y":0.19},{"x":1294,"y":0.12},{"x":1326,"y":0.375},{"x":1351,"y":0.8},{"x":1375,"y":0.85},{"x":1392,"y":0.63},{"x":1416,"y":0.52},{"x":1449,"y":0.71},{"x":1473,"y":0.99},{"x":1489,"y":0.82},{"x":1514,"y":0.34},{"x":1538,"y":0.15},{"x":1571,"y":0.19},{"x":1603,"y":0.375},{"x":1628,"y":0.67},{"x":1647,"y":0.56},{"x":1668,"y":0.12},{"x":1693,"y":0.01},{"x":1709,"y":0.0},{"x":1760,"y":0.07},{"x":1815,"y":0.13},{"x":1870,"y":0.17},{"x":1920,"y":0.18},{"x":1985,"y":0.13},{"x":2034,"y":0.11},{"x":2083,"y":0.07},{"x":2140,"y":0.04},{"x":2213,"y":0.03},{"x":2270,"y":0.03},{"x":2330,"y":0.04},{"x":2400,"y":0.03},{"x":2450,"y":0.04},{"x":2500,"y":0.05}]
  },
  "concat": [
    {"width": 466, "height": 182, "layer": [
      {"data": {"name": "a_red"}, "mark": {"type": "line", "color": "#ff0000", "strokeWidth": 2.2}, "encoding": {"x": {"field": "x", "type": "quantitative", "scale": {"domain": [255, 2500], "nice": false, "zero": false}, "axis": {"orient": "bottom", "values": [500,750,1000,1250,1500,1750,2000,2250,2500], "labels": false, "title": null}}, "y": {"field": "y", "type": "quantitative", "scale": {"domain": [0, 2], "nice": false}, "axis": {"orient": "left", "values": [0,1,2], "format": "d", "labelPadding": 11, "title": null}}}},
      {"data": {"name": "a_blue"}, "mark": {"type": "line", "color": "#0000ff", "strokeWidth": 2.6}, "encoding": {"x": {"field": "x", "type": "quantitative", "axis": null}, "y": {"field": "y", "type": "quantitative", "axis": null}}},
      {"data": {"name": "a_purple"}, "mark": {"type": "line", "color": "#a800ff", "strokeWidth": 2.6}, "encoding": {"x": {"field": "x", "type": "quantitative", "axis": null}, "y": {"field": "y", "type": "quantitative", "axis": null}}},
      {"data": {"values": [{"tag": "(a)"}]}, "mark": {"type": "text", "align": "left", "baseline": "alphabetic", "fontSize": 21, "fontWeight": "bold", "color": "#000000", "dx": 2, "dy": -9}, "encoding": {"x": {"datum": 255, "type": "quantitative", "axis": {"orient": "top", "values": [500,750,1000,1250,1500,1750,2000,2250,2500], "labels": false, "title": null}}, "y": {"datum": 2, "type": "quantitative", "axis": {"orient": "right", "values": [0,1,2], "labels": false, "title": null}}, "text": {"field": "tag"}}},
      {"data": {"values": [{"name": "Aspergillus nidulans"}]}, "mark": {"type": "text", "align": "left", "baseline": "alphabetic", "fontSize": 21, "fontStyle": "italic", "color": "#000000", "dx": 41, "dy": -9}, "encoding": {"x": {"datum": 255, "type": "quantitative", "axis": null}, "y": {"datum": 2, "type": "quantitative", "axis": null}, "text": {"field": "name"}}}
    ]},
    {"width": 466, "height": 182, "layer": [
      {"data": {"name": "b_red"}, "mark": {"type": "line", "color": "#ff0000", "strokeWidth": 2.2}, "encoding": {"x": {"field": "x", "type": "quantitative", "scale": {"domain": [255, 2500], "nice": false, "zero": false}, "axis": {"orient": "bottom", "values": [500,750,1000,1250,1500,1750,2000,2250,2500], "labels": false, "title": null}}, "y": {"field": "y", "type": "quantitative", "scale": {"domain": [0, 2], "nice": false}, "axis": {"orient": "left", "values": [0,1,2], "format": "d", "labelPadding": 11, "title": null}}}},
      {"data": {"name": "b_blue"}, "mark": {"type": "line", "color": "#0000ff", "strokeWidth": 2.6}, "encoding": {"x": {"field": "x", "type": "quantitative", "axis": null}, "y": {"field": "y", "type": "quantitative", "axis": null}}},
      {"data": {"name": "b_purple"}, "mark": {"type": "line", "color": "#a800ff", "strokeWidth": 2.6}, "encoding": {"x": {"field": "x", "type": "quantitative", "axis": null}, "y": {"field": "y", "type": "quantitative", "axis": null}}},
      {"data": {"values": [{"tag": "(b)"}]}, "mark": {"type": "text", "align": "left", "baseline": "alphabetic", "fontSize": 21, "fontWeight": "bold", "color": "#000000", "dx": 2, "dy": -9}, "encoding": {"x": {"datum": 255, "type": "quantitative", "axis": {"orient": "top", "values": [500,750,1000,1250,1500,1750,2000,2250,2500], "labels": false, "title": null}}, "y": {"datum": 2, "type": "quantitative", "axis": {"orient": "right", "values": [0,1,2], "labels": false, "title": null}}, "text": {"field": "tag"}}},
      {"data": {"values": [{"name": "Aspergillus flavus"}]}, "mark": {"type": "text", "align": "left", "baseline": "alphabetic", "fontSize": 21, "fontStyle": "italic", "color": "#000000", "dx": 41, "dy": -9}, "encoding": {"x": {"datum": 255, "type": "quantitative", "axis": null}, "y": {"datum": 2, "type": "quantitative", "axis": null}, "text": {"field": "name"}}}
    ]},
    {"width": 466, "height": 182, "layer": [
      {"data": {"name": "c_red"}, "mark": {"type": "line", "color": "#ff0000", "strokeWidth": 2.2}, "encoding": {"x": {"field": "x", "type": "quantitative", "scale": {"domain": [255, 2500], "nice": false, "zero": false}, "axis": {"orient": "bottom", "values": [500,750,1000,1250,1500,1750,2000,2250,2500], "labels": false, "title": null}}, "y": {"field": "y", "type": "quantitative", "scale": {"domain": [0, 2], "nice": false}, "axis": {"orient": "left", "values": [0,1,2], "format": "d", "labelPadding": 11, "title": null}}}},
      {"data": {"name": "c_blue"}, "mark": {"type": "line", "color": "#0000ff", "strokeWidth": 2.6}, "encoding": {"x": {"field": "x", "type": "quantitative", "axis": null}, "y": {"field": "y", "type": "quantitative", "axis": null}}},
      {"data": {"name": "c_purple"}, "mark": {"type": "line", "color": "#a800ff", "strokeWidth": 2.6}, "encoding": {"x": {"field": "x", "type": "quantitative", "axis": null}, "y": {"field": "y", "type": "quantitative", "axis": null}}},
      {"data": {"values": [{"tag": "(c)"}]}, "mark": {"type": "text", "align": "left", "baseline": "alphabetic", "fontSize": 21, "fontWeight": "bold", "color": "#000000", "dx": 2, "dy": -9}, "encoding": {"x": {"datum": 255, "type": "quantitative", "axis": {"orient": "top", "values": [500,750,1000,1250,1500,1750,2000,2250,2500], "labels": false, "title": null}}, "y": {"datum": 2, "type": "quantitative", "axis": {"orient": "right", "values": [0,1,2], "labels": false, "title": null}}, "text": {"field": "tag"}}},
      {"data": {"values": [{"name": "Aspergillus oryzae"}]}, "mark": {"type": "text", "align": "left", "baseline": "alphabetic", "fontSize": 21, "fontStyle": "italic", "color": "#000000", "dx": 41, "dy": -9}, "encoding": {"x": {"datum": 255, "type": "quantitative", "axis": null}, "y": {"datum": 2, "type": "quantitative", "axis": null}, "text": {"field": "name"}}}
    ]},
    {"width": 466, "height": 182, "layer": [
      {"data": {"name": "d_red"}, "mark": {"type": "line", "color": "#ff0000", "strokeWidth": 2.2}, "encoding": {"x": {"field": "x", "type": "quantitative", "scale": {"domain": [255, 2500], "nice": false, "zero": false}, "axis": {"orient": "bottom", "values": [500,750,1000,1250,1500,1750,2000,2250,2500], "labels": false, "title": null}}, "y": {"field": "y", "type": "quantitative", "scale": {"domain": [0, 2], "nice": false}, "axis": {"orient": "left", "values": [0,1,2], "format": "d", "labelPadding": 11, "title": null}}}},
      {"data": {"name": "d_blue"}, "mark": {"type": "line", "color": "#0000ff", "strokeWidth": 2.6}, "encoding": {"x": {"field": "x", "type": "quantitative", "axis": null}, "y": {"field": "y", "type": "quantitative", "axis": null}}},
      {"data": {"name": "d_purple"}, "mark": {"type": "line", "color": "#a800ff", "strokeWidth": 2.6}, "encoding": {"x": {"field": "x", "type": "quantitative", "axis": null}, "y": {"field": "y", "type": "quantitative", "axis": null}}},
      {"data": {"values": [{"tag": "(d)"}]}, "mark": {"type": "text", "align": "left", "baseline": "alphabetic", "fontSize": 21, "fontWeight": "bold", "color": "#000000", "dx": 2, "dy": -9}, "encoding": {"x": {"datum": 255, "type": "quantitative", "axis": {"orient": "top", "values": [500,750,1000,1250,1500,1750,2000,2250,2500], "labels": false, "title": null}}, "y": {"datum": 2, "type": "quantitative", "axis": {"orient": "right", "values": [0,1,2], "labels": false, "title": null}}, "text": {"field": "tag"}}},
      {"data": {"values": [{"name": "Aspergillus versicolor"}]}, "mark": {"type": "text", "align": "left", "baseline": "alphabetic", "fontSize": 21, "fontStyle": "italic", "color": "#000000", "dx": 41, "dy": -9}, "encoding": {"x": {"datum": 255, "type": "quantitative", "axis": null}, "y": {"datum": 2, "type": "quantitative", "axis": null}, "text": {"field": "name"}}}
    ]},
    {"width": 466, "height": 182, "layer": [
      {"data": {"name": "e_red"}, "mark": {"type": "line", "color": "#ff0000", "strokeWidth": 2.2}, "encoding": {"x": {"field": "x", "type": "quantitative", "scale": {"domain": [255, 2500], "nice": false, "zero": false}, "axis": {"orient": "bottom", "values": [500,750,1000,1250,1500,1750,2000,2250,2500], "labels": false, "title": null}}, "y": {"field": "y", "type": "quantitative", "scale": {"domain": [0, 2], "nice": false}, "axis": {"orient": "left", "values": [0,1,2], "format": "d", "labelPadding": 11, "title": null}}}},
      {"data": {"name": "e_blue"}, "mark": {"type": "line", "color": "#0000ff", "strokeWidth": 2.6}, "encoding": {"x": {"field": "x", "type": "quantitative", "axis": null}, "y": {"field": "y", "type": "quantitative", "axis": null}}},
      {"data": {"name": "e_purple"}, "mark": {"type": "line", "color": "#a800ff", "strokeWidth": 2.6}, "encoding": {"x": {"field": "x", "type": "quantitative", "axis": null}, "y": {"field": "y", "type": "quantitative", "axis": null}}},
      {"data": {"values": [{"tag": "(e)"}]}, "mark": {"type": "text", "align": "left", "baseline": "alphabetic", "fontSize": 21, "fontWeight": "bold", "color": "#000000", "dx": 2, "dy": -9}, "encoding": {"x": {"datum": 255, "type": "quantitative", "axis": {"orient": "top", "values": [500,750,1000,1250,1500,1750,2000,2250,2500], "labels": false, "title": null}}, "y": {"datum": 2, "type": "quantitative", "axis": {"orient": "right", "values": [0,1,2], "labels": false, "title": null}}, "text": {"field": "tag"}}},
      {"data": {"values": [{"name": "Aspergillus fumigatus"}]}, "mark": {"type": "text", "align": "left", "baseline": "alphabetic", "fontSize": 21, "fontStyle": "italic", "color": "#000000", "dx": 41, "dy": -9}, "encoding": {"x": {"datum": 255, "type": "quantitative", "axis": null}, "y": {"datum": 2, "type": "quantitative", "axis": null}, "text": {"field": "name"}}}
    ]},
    {"width": 466, "height": 182, "layer": [
      {"data": {"name": "f_red"}, "mark": {"type": "line", "color": "#ff0000", "strokeWidth": 2.2}, "encoding": {"x": {"field": "x", "type": "quantitative", "scale": {"domain": [255, 2500], "nice": false, "zero": false}, "axis": {"orient": "bottom", "values": [500,750,1000,1250,1500,1750,2000,2250,2500], "labels": false, "title": null}}, "y": {"field": "y", "type": "quantitative", "scale": {"domain": [0, 2], "nice": false}, "axis": {"orient": "left", "values": [0,1,2], "format": "d", "labelPadding": 11, "title": null}}}},
      {"data": {"name": "f_blue"}, "mark": {"type": "line", "color": "#0000ff", "strokeWidth": 2.6}, "encoding": {"x": {"field": "x", "type": "quantitative", "axis": null}, "y": {"field": "y", "type": "quantitative", "axis": null}}},
      {"data": {"name": "f_purple"}, "mark": {"type": "line", "color": "#a800ff", "strokeWidth": 2.6}, "encoding": {"x": {"field": "x", "type": "quantitative", "axis": null}, "y": {"field": "y", "type": "quantitative", "axis": null}}},
      {"data": {"values": [{"tag": "(f)"}]}, "mark": {"type": "text", "align": "left", "baseline": "alphabetic", "fontSize": 21, "fontWeight": "bold", "color": "#000000", "dx": 2, "dy": -9}, "encoding": {"x": {"datum": 255, "type": "quantitative", "axis": {"orient": "top", "values": [500,750,1000,1250,1500,1750,2000,2250,2500], "labels": false, "title": null}}, "y": {"datum": 2, "type": "quantitative", "axis": {"orient": "right", "values": [0,1,2], "labels": false, "title": null}}, "text": {"field": "tag"}}},
      {"data": {"values": [{"name": "Aspergillus niger"}]}, "mark": {"type": "text", "align": "left", "baseline": "alphabetic", "fontSize": 21, "fontStyle": "italic", "color": "#000000", "dx": 41, "dy": -9}, "encoding": {"x": {"datum": 255, "type": "quantitative", "axis": null}, "y": {"datum": 2, "type": "quantitative", "axis": null}, "text": {"field": "name"}}}
    ]},
    {"width": 466, "height": 182, "layer": [
      {"data": {"name": "g_red"}, "mark": {"type": "line", "color": "#ff0000", "strokeWidth": 2.2}, "encoding": {"x": {"field": "x", "type": "quantitative", "scale": {"domain": [255, 2500], "nice": false, "zero": false}, "axis": {"orient": "bottom", "values": [500,750,1000,1250,1500,1750,2000,2250,2500], "format": "d", "labelExpr": "datum.value % 500 === 0 ? datum.label : ''", "labelPadding": 20, "title": "Raman shift (cm⁻¹)", "titlePadding": 8}}, "y": {"field": "y", "type": "quantitative", "scale": {"domain": [0, 2], "nice": false}, "axis": {"orient": "left", "values": [0,1,2], "format": "d", "labelPadding": 11, "title": "Intensity (arb. units)", "titlePadding": 6}}}},
      {"data": {"name": "g_blue"}, "mark": {"type": "line", "color": "#0000ff", "strokeWidth": 2.6}, "encoding": {"x": {"field": "x", "type": "quantitative", "axis": null}, "y": {"field": "y", "type": "quantitative", "axis": null}}},
      {"data": {"name": "g_purple"}, "mark": {"type": "line", "color": "#a800ff", "strokeWidth": 2.6}, "encoding": {"x": {"field": "x", "type": "quantitative", "axis": null}, "y": {"field": "y", "type": "quantitative", "axis": null}}},
      {"data": {"values": [{"tag": "(g)"}]}, "mark": {"type": "text", "align": "left", "baseline": "alphabetic", "fontSize": 21, "fontWeight": "bold", "color": "#000000", "dx": 2, "dy": -9}, "encoding": {"x": {"datum": 255, "type": "quantitative", "axis": {"orient": "top", "values": [500,750,1000,1250,1500,1750,2000,2250,2500], "labels": false, "title": null}}, "y": {"datum": 2, "type": "quantitative", "axis": {"orient": "right", "values": [0,1,2], "labels": false, "title": null}}, "text": {"field": "tag"}}},
      {"data": {"values": [{"name": "Stachybotrys chartarum"}]}, "mark": {"type": "text", "align": "left", "baseline": "alphabetic", "fontSize": 21, "fontStyle": "italic", "color": "#000000", "dx": 41, "dy": -9}, "encoding": {"x": {"datum": 255, "type": "quantitative", "axis": null}, "y": {"datum": 2, "type": "quantitative", "axis": null}, "text": {"field": "name"}}}
    ]},
    {"width": 466, "height": 182, "layer": [
      {"data": {"name": "h_red"}, "mark": {"type": "line", "color": "#ff0000", "strokeWidth": 2.2}, "encoding": {"x": {"field": "x", "type": "quantitative", "scale": {"domain": [255, 2500], "nice": false, "zero": false}, "axis": {"orient": "bottom", "values": [500,750,1000,1250,1500,1750,2000,2250,2500], "format": "d", "labelExpr": "datum.value % 500 === 0 ? datum.label : ''", "labelPadding": 20, "title": "Raman shift (cm⁻¹)", "titlePadding": 8}}, "y": {"field": "y", "type": "quantitative", "scale": {"domain": [0, 2], "nice": false}, "axis": {"orient": "left", "values": [0,1,2], "format": "d", "labelPadding": 11, "title": null}}}},
      {"data": {"name": "h_blue"}, "mark": {"type": "line", "color": "#0000ff", "strokeWidth": 2.6}, "encoding": {"x": {"field": "x", "type": "quantitative", "axis": null}, "y": {"field": "y", "type": "quantitative", "axis": null}}},
      {"data": {"name": "h_purple"}, "mark": {"type": "line", "color": "#a800ff", "strokeWidth": 2.6}, "encoding": {"x": {"field": "x", "type": "quantitative", "axis": null}, "y": {"field": "y", "type": "quantitative", "axis": null}}},
      {"data": {"values": [{"tag": "(h)"}]}, "mark": {"type": "text", "align": "left", "baseline": "alphabetic", "fontSize": 21, "fontWeight": "bold", "color": "#000000", "dx": 2, "dy": -9}, "encoding": {"x": {"datum": 255, "type": "quantitative", "axis": {"orient": "top", "values": [500,750,1000,1250,1500,1750,2000,2250,2500], "labels": false, "title": null}}, "y": {"datum": 2, "type": "quantitative", "axis": {"orient": "right", "values": [0,1,2], "labels": false, "title": null}}, "text": {"field": "tag"}}},
      {"data": {"values": [{"name": "Penicillium chrysogenum"}]}, "mark": {"type": "text", "align": "left", "baseline": "alphabetic", "fontSize": 21, "fontStyle": "italic", "color": "#000000", "dx": 41, "dy": -9}, "encoding": {"x": {"datum": 255, "type": "quantitative", "axis": null}, "y": {"datum": 2, "type": "quantitative", "axis": null}, "text": {"field": "name"}}}
    ]}
  ]
}
